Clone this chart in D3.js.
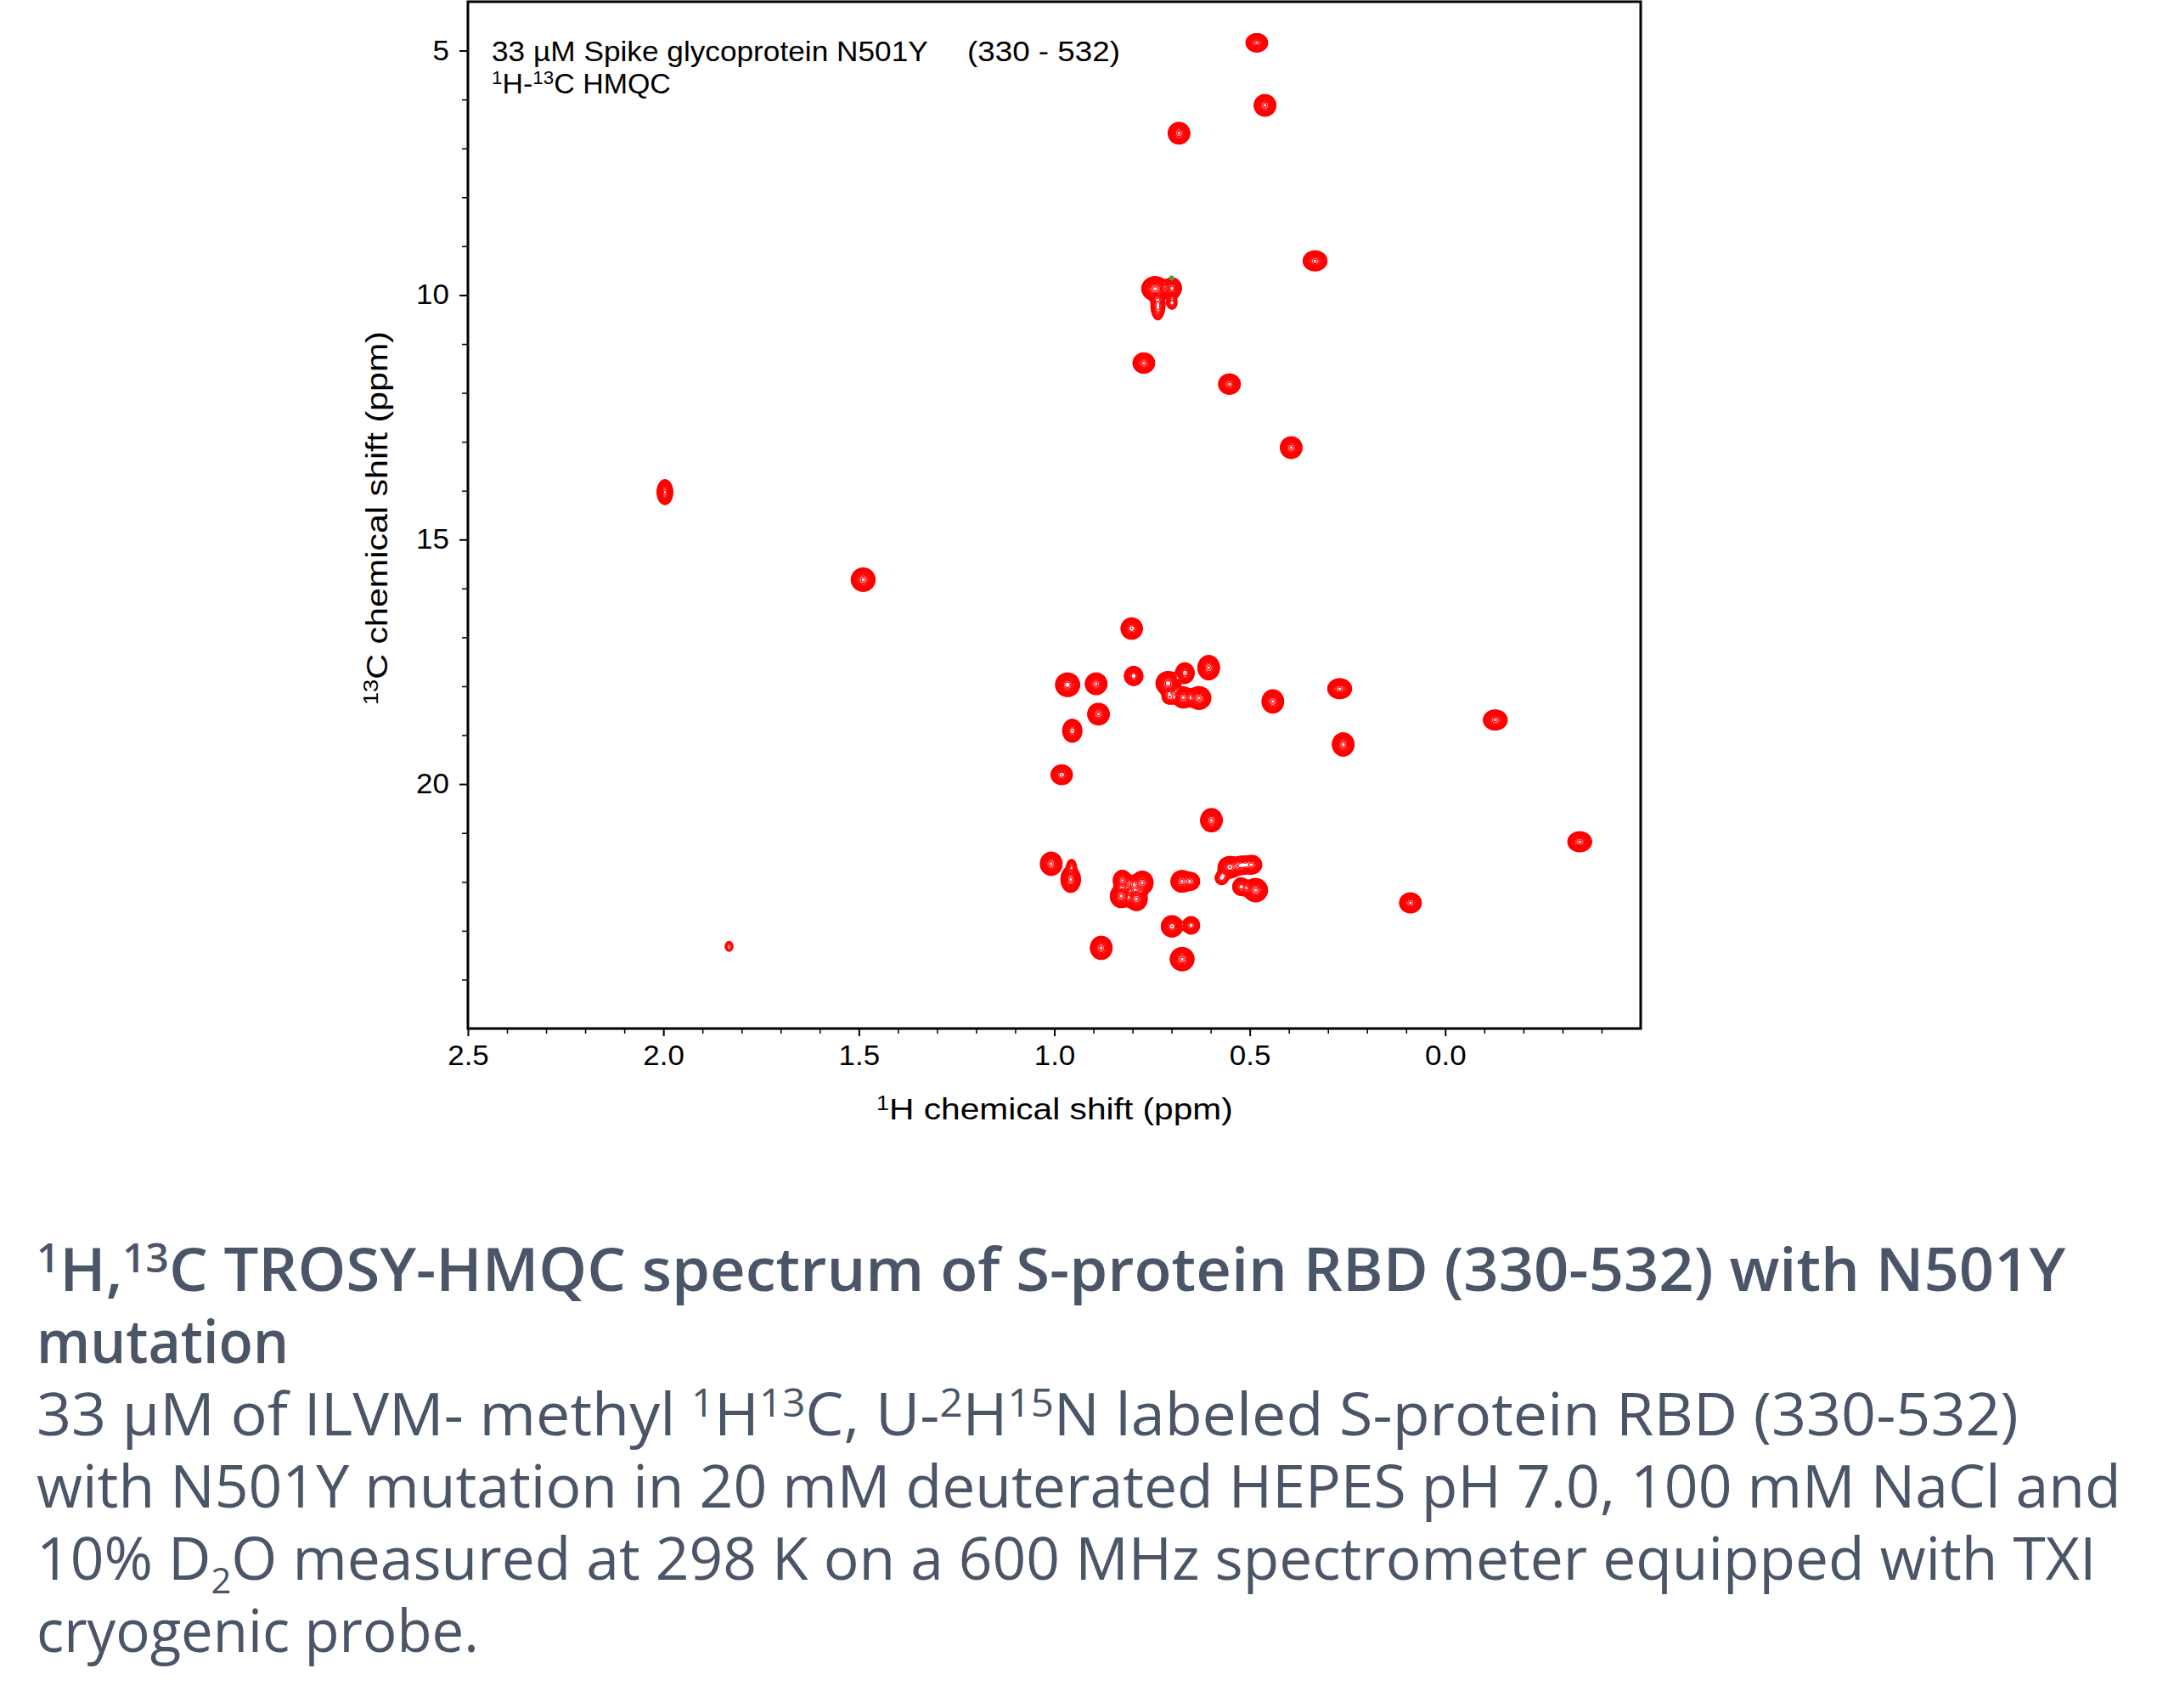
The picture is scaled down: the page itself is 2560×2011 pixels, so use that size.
<!DOCTYPE html>
<html><head><meta charset="utf-8">
<script src="https://cdn.jsdelivr.net/npm/d3@7"></script>
<style>
html,body{margin:0;padding:0;background:#fff;}
svg{display:block}
</style></head><body>
<svg id="chart" width="2560" height="2011"></svg>
<script>
// ---------------- data ----------------
const xTickValues = [2.5, 2.0, 1.5, 1.0, 0.5, 0.0];
const xTickLabels = ["2.5", "2.0", "1.5", "1.0", "0.5", "0.0"];
const yTickValues = [5, 10, 15, 20];
const yTickLabels = ["5", "10", "15", "20"];

// positive (red) cross-peaks: 1H ppm, 13C ppm, relative intensity, line widths (ppm)
const peakH = [0.482,0.461,0.681,0.333,0.742,0.699,0.735,0.699,0.771,0.552,0.394,1.996,1.489,
  0.802,0.966,0.893,0.797,0.709,0.666,0.605,0.630,0.670,0.705,0.441,0.270,0.261,0.887,0.954,0.981,
  0.598,1.008,0.958,0.956,0.826,0.775,0.799,0.829,0.790,0.674,0.650,0.551,0.520,0.495,0.572,0.522,
  0.485,0.699,0.650,0.880,0.673,-0.128,-0.344,0.089,1.832];
const peakC = [4.84,6.12,6.69,9.30,9.87,9.86,10.22,10.16,11.39,11.82,13.12,14.03,15.82,
  16.82,17.97,17.95,17.79,17.94,17.73,17.62,18.24,18.23,18.22,18.31,18.05,19.19,18.57,18.91,19.81,
  20.74,21.63,21.95,21.68,21.97,22.02,22.06,22.29,22.35,21.99,21.99,21.70,21.66,21.65,21.92,22.10,
  22.17,22.91,22.89,23.35,23.58,18.69,21.18,22.43,23.32];
const peakI = [1.0,1.0,1.0,1.0,1.3,0.8,0.25,0.12,1.0,1.0,1.0,1.0,1.0,
  0.9,1.1,1.0,0.7,1.1,0.7,1.0,1.0,0.8,0.2,1.0,1.0,1.0,1.0,0.9,0.9,
  1.0,1.0,1.0,0.15,0.6,1.0,0.3,1.0,1.0,1.0,0.4,0.9,0.5,0.6,0.12,0.4,
  1.0,0.9,0.4,1.0,1.0,1.0,1.0,1.0,0.06];
const peakWH = [0.010,0.010,0.010,0.011,0.012,0.009,0.008,0.007,0.010,0.010,0.010,0.0072,0.011,
  0.010,0.011,0.010,0.009,0.011,0.009,0.010,0.011,0.010,0.009,0.010,0.011,0.010,0.010,0.009,0.010,
  0.010,0.010,0.009,0.006,0.009,0.010,0.008,0.010,0.010,0.010,0.009,0.011,0.010,0.010,0.009,0.009,
  0.011,0.010,0.009,0.010,0.011,0.011,0.011,0.010,0.007];
const peakWC = [0.068,0.080,0.080,0.074,0.086,0.080,0.130,0.070,0.075,0.075,0.080,0.092,0.086,
  0.080,0.086,0.080,0.074,0.086,0.080,0.090,0.084,0.080,0.070,0.086,0.074,0.086,0.080,0.086,0.074,
  0.086,0.086,0.096,0.070,0.080,0.086,0.074,0.086,0.086,0.080,0.074,0.080,0.074,0.074,0.074,0.074,
  0.086,0.080,0.074,0.086,0.086,0.074,0.074,0.074,0.070];

// negative (green) cross-peaks
const negH = [0.700];
const negC = [9.65];
const negI = [0.032];
const negWH = [0.006];
const negWC = [0.050];

const contourBase = 0.022;
const contourFactor = 1.28;
const contourCount = 18;

// texts
const annotLine1a = "33 \u00b5M Spike glycoprotein N501Y";
const annotLine1b = "(330 - 532)";
const annotLine2 = [["1","sup"],["H-",""],["13","sup"],["C HMQC",""]];
const xTitle = [["1","sup"],["H chemical shift (ppm)",""]];
const yTitle = [["13","sup"],["C chemical shift (ppm)",""]];

const captionTitle1 = [["1","sup"],["H,",""],["13","sup"],["C TROSY-HMQC spectrum of S-protein RBD (330-532) with N501Y",""]];
const captionTitle2 = [["mutation",""]];
const captionBody1 = [["33 \u00b5M of ILVM- methyl ",""],["1","sup"],["H",""],["13","sup"],["C, U-",""],["2","sup"],["H",""],["15","sup"],["N labeled S-protein RBD (330-532)",""]];
const captionBody2 = [["with N501Y mutation in 20 mM deuterated HEPES pH 7.0, 100 mM NaCl and",""]];
const captionBody3 = [["10% D",""],["2","sub"],["O measured at 298 K on a 600 MHz spectrometer equipped with TXI",""]];
const captionBody4 = [["cryogenic probe.",""]];

// ---------------- layout ----------------
const plotL = 551, plotR = 1932, plotT = 2, plotB = 1211;
const svg = d3.select("#chart");
const chartFont = "'Liberation Sans', Arial, Helvetica, sans-serif";
const capFont = "'Open Sans', 'Noto Sans', Lato, sans-serif";

const x = d3.scaleLinear().domain([2.5, -0.5]).range([plotL, plotR]);
const y = d3.scaleLinear().domain([4, 25]).range([plotT, plotB]);

// ---------------- contours ----------------
const step = 1;
const nx = Math.round((plotR - plotL) / step), ny = Math.round((plotB - plotT) / step);
function field(hs, cs, is, whs, wcs) {
  const v = new Float64Array(nx * ny);
  for (let k = 0; k < hs.length; k++) {
    const px = x(hs[k]), py = y(cs[k]);
    const sx = Math.abs(x(hs[k] + whs[k]) - px), sy = Math.abs(y(cs[k] + wcs[k]) - py);
    const i0 = Math.max(0, Math.floor((px - plotL - 7 * sx) / step));
    const i1 = Math.min(nx - 1, Math.ceil((px - plotL + 7 * sx) / step));
    const j0 = Math.max(0, Math.floor((py - plotT - 7 * sy) / step));
    const j1 = Math.min(ny - 1, Math.ceil((py - plotT + 7 * sy) / step));
    for (let j = j0; j <= j1; j++) {
      const dy = (plotT + (j + 0.5) * step - py) / sy;
      for (let i = i0; i <= i1; i++) {
        const dx = (plotL + (i + 0.5) * step - px) / sx;
        v[j * nx + i] += is[k] * Math.exp(-0.5 * (dx * dx + dy * dy));
      }
    }
  }
  return v;
}
const levels = d3.range(contourCount).map(k => contourBase * Math.pow(contourFactor, k));
const proj = d3.geoIdentity().scale(step).translate([plotL, plotT]);
const path = d3.geoPath(proj);

svg.append("clipPath").attr("id", "clip").append("rect")
  .attr("x", plotL).attr("y", plotT).attr("width", plotR - plotL).attr("height", plotB - plotT);
const gc = svg.append("g").attr("clip-path", "url(#clip)");

const posC = d3.contours().size([nx, ny]).thresholds(levels)(field(peakH, peakC, peakI, peakWH, peakWC));
gc.append("g").selectAll("path").data(posC).join("path")
  .attr("d", path).attr("fill", "none").attr("stroke", "#ff0000").attr("stroke-width", 1.3);
const negCt = d3.contours().size([nx, ny]).thresholds(levels)(field(negH, negC, negI, negWH, negWC));
gc.append("g").selectAll("path").data(negCt).join("path")
  .attr("d", path).attr("fill", "none").attr("stroke", "#3cb043").attr("stroke-width", 1.3);

// ---------------- axes ----------------
const xMinor = d3.range(-4, 25).map(d => d / 10).filter(d => Math.abs(d * 2 - Math.round(d * 2)) > 1e-6);
const yMinor = d3.range(5, 25).filter(d => d % 5 !== 0);

const gxMinor = svg.append("g").attr("transform", `translate(0,${plotB})`)
  .call(d3.axisBottom(x).tickValues(xMinor).tickSize(6).tickFormat(""));
const gyMinor = svg.append("g").attr("transform", `translate(${plotL},0)`)
  .call(d3.axisLeft(y).tickValues(yMinor).tickSize(7).tickFormat(""));
[gxMinor, gyMinor].forEach(g => { g.select(".domain").remove(); g.selectAll("line").attr("stroke", "#000").attr("stroke-width", 1.5); });

const gx = svg.append("g").attr("transform", `translate(0,${plotB})`)
  .call(d3.axisBottom(x).tickValues(xTickValues).tickSize(9).tickPadding(11)
    .tickFormat((d, i) => xTickLabels[i]));
const gy = svg.append("g").attr("transform", `translate(${plotL},0)`)
  .call(d3.axisLeft(y).tickValues(yTickValues).tickSize(10).tickPadding(12)
    .tickFormat((d, i) => yTickLabels[i]));
[gx, gy].forEach(g => {
  g.select(".domain").remove();
  g.selectAll("line").attr("stroke", "#000").attr("stroke-width", 2);
  g.selectAll("text").attr("font-family", chartFont).attr("font-size", 33).attr("fill", "#000");
  g.selectAll("text").each(function () {
    const w = this.getComputedTextLength();
    d3.select(this).attr("textLength", w * 1.06).attr("lengthAdjust", "spacingAndGlyphs");
  });
});

// frame
svg.append("rect").attr("x", plotL).attr("y", plotT).attr("width", plotR - plotL).attr("height", plotB - plotT)
  .attr("fill", "none").attr("stroke", "#000").attr("stroke-width", 3);

// ---------------- text helper ----------------
function richText(parent, segs, opt) {
  const t = parent.append("text").attr("font-family", opt.family).attr("font-size", opt.fs)
    .attr("font-weight", opt.weight || 400).attr("fill", opt.fill || "#000");
  let shift = 0;
  segs.forEach(([s, type]) => {
    const sp = t.append("tspan").text(s);
    const want = type === "sup" ? -0.31 * opt.fs : type === "sub" ? 0.23 * opt.fs : 0;
    sp.attr("dy", want - shift);
    shift = want;
    if (type === "sup") sp.attr("font-size", 0.66 * opt.fs);
    if (type === "sub") sp.attr("font-size", 0.6 * opt.fs);
  });
  const w = t.node().getComputedTextLength();
  const s = opt.width ? opt.width / w : 1;
  const W = w * s;
  if (opt.rotate) {
    t.attr("transform", `translate(${opt.x},${opt.y}) rotate(-90) translate(${-W / 2},0) scale(${s},1)`);
  } else {
    const left = opt.anchor === "middle" ? opt.x - W / 2 : opt.x;
    t.attr("transform", `translate(${left},${opt.y}) scale(${s},1)`);
  }
  return t;
}

// in-plot annotation
richText(svg, [[annotLine1a, ""]], { family: chartFont, fs: 34, x: 579, y: 72, width: 514 });
richText(svg, [[annotLine1b, ""]], { family: chartFont, fs: 34, x: 1139, y: 72, width: 180 });
richText(svg, annotLine2, { family: chartFont, fs: 34, x: 579, y: 110, width: 211 });

// axis titles
richText(svg, xTitle, { family: chartFont, fs: 35, x: 1242, y: 1318, width: 420, anchor: "middle" });
richText(svg, yTitle, { family: chartFont, fs: 35, x: 456, y: 610, width: 440, rotate: true });

// ---------------- caption ----------------
const capColor = "#4a5568";
const capLines = [
  [captionTitle1, 1520, 600, 2433],
  [captionTitle2, 1605, 600, 340],
  [captionBody1, 1690, 400, 2377],
  [captionBody2, 1775, 400, 2498],
  [captionBody3, 1860, 400, 2469],
  [captionBody4, 1945, 400, 564]
];
capLines.forEach(([segs, base, wt, right]) => {
  richText(svg, segs, { family: capFont, fs: 70, weight: wt, fill: capColor, x: 43, y: base, width: right - 43 });
});
</script>
</body></html>
